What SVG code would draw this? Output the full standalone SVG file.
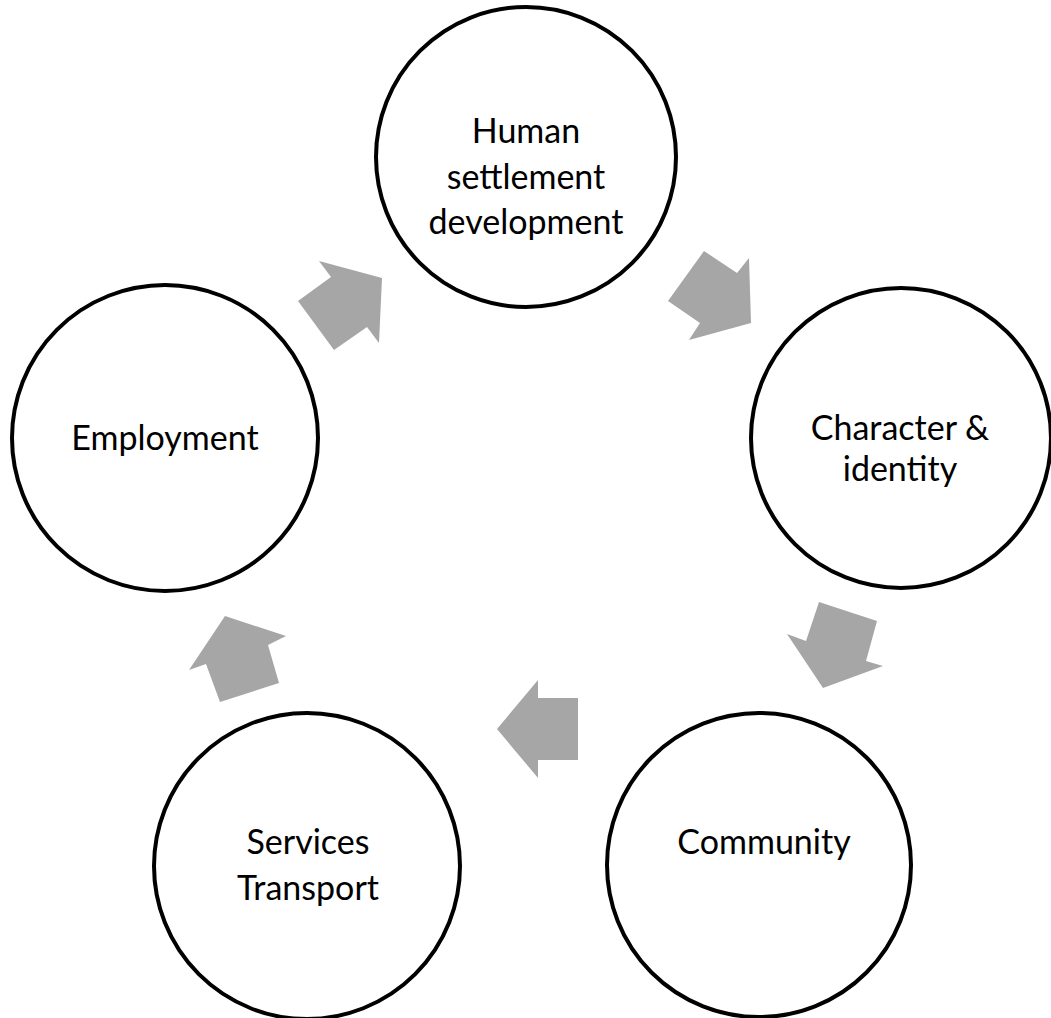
<svg xmlns="http://www.w3.org/2000/svg" width="1051" height="1018" viewBox="0 0 1051 1018">
  <style>
    .node { fill: #ffffff; stroke: #000000; stroke-width: 4; }
    .lbl { font-family: Lato, "Open Sans", "Liberation Sans", sans-serif; font-size: 34px; fill: #000000; text-anchor: middle; }
    .arrow { fill: #a6a6a6; stroke: none; }
  </style>
  <rect width="1051" height="1018" fill="#ffffff"/>
  <g id="connectors">
    <polygon class="arrow" points="298,301 331,277 319,261 382,278 379,343 367,327 334,350"/>
    <polygon class="arrow" points="704,251 737,273 749,258 751,323 689,340 700,323 668,301"/>
    <polygon class="arrow" points="819,602 877,621 866,661 883,666 823,688 787,634 806,641"/>
    <polygon class="arrow" points="578,698 538,698 538,680 497,729 538,778 538,760 578,760"/>
    <polygon class="arrow" points="220,702 279,683 268,645 286,636 225,616 189,670 206,664"/>
  </g>
  <g id="node-human-settlement">
    <circle class="node" cx="526" cy="157" r="150"/>
    <text class="lbl" x="526" y="143">Human</text>
    <text class="lbl" x="526" y="189">settlement</text>
    <text class="lbl" x="526" y="234">development</text>
  </g>
  <g id="node-character">
    <circle class="node" cx="901" cy="438" r="150"/>
    <text class="lbl" x="900" y="440">Character &amp;</text>
    <text class="lbl" x="900" y="481">identity</text>
  </g>
  <g id="node-community">
    <circle class="node" cx="759" cy="865" r="152"/>
    <text class="lbl" x="764" y="854">Community</text>
  </g>
  <g id="node-services">
    <circle class="node" cx="307" cy="866" r="153"/>
    <text class="lbl" x="308" y="854">Services</text>
    <text class="lbl" x="308" y="900">Transport</text>
  </g>
  <g id="node-employment">
    <circle class="node" cx="165" cy="438" r="153"/>
    <text class="lbl" x="165" y="450">Employment</text>
  </g>
</svg>
